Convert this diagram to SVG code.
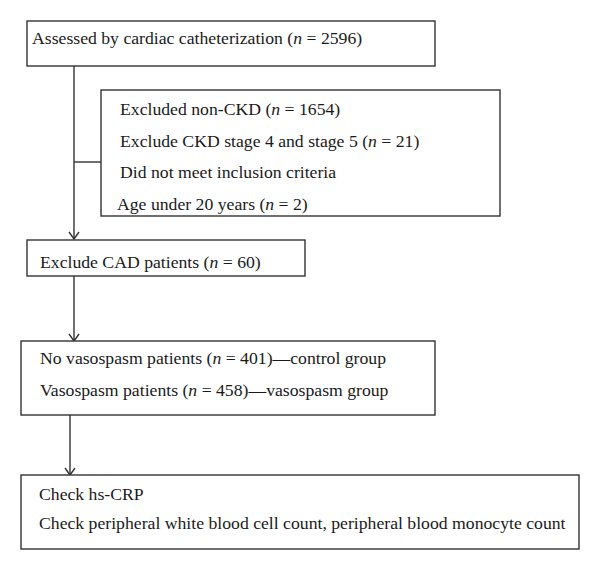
<svg xmlns="http://www.w3.org/2000/svg" width="600" height="570" viewBox="0 0 600 570">
<style>
.box{fill:#fff;stroke:#333;stroke-width:1.4}
.t{font-family:"Liberation Serif","Times New Roman",serif;font-size:17.7px;fill:#1a1a1a}
.ln{stroke:#333;stroke-width:1.4;fill:none}
</style>
<defs>
<marker id="ah" markerWidth="12" markerHeight="12" refX="10" refY="6" orient="auto" markerUnits="userSpaceOnUse" viewBox="0 0 12 12">
<path d="M3,1 L10,6 L3,11" fill="none" stroke="#333" stroke-width="1.4"/>
</marker>
</defs>
<rect width="600" height="570" fill="#fff"/>
<g id="connectors">
<path class="ln" d="M74,66 V239" marker-end="url(#ah)"/>
<path class="ln" d="M74,162 H101"/>
<path class="ln" d="M74,276 V341" marker-end="url(#ah)"/>
<path class="ln" d="M70,415 V475" marker-end="url(#ah)"/>
</g>
<g id="assessed">
<rect class="box" x="27" y="21" width="408" height="45"/>
<text class="t" x="32" y="44">Assessed by cardiac catheterization (<tspan font-style="italic">n</tspan> = 2596)</text>
</g>
<g id="excluded">
<rect class="box" x="101" y="90" width="399" height="126"/>
<text class="t" x="120" y="115">Excluded non-CKD (<tspan font-style="italic">n</tspan> = 1654)</text>
<text class="t" x="120" y="147">Exclude CKD stage 4 and stage 5 (<tspan font-style="italic">n</tspan> = 21)</text>
<text class="t" x="120" y="178">Did not meet inclusion criteria</text>
<text class="t" x="117" y="210">Age under 20 years (<tspan font-style="italic">n</tspan> = 2)</text>
</g>
<g id="cad">
<rect class="box" x="27" y="240" width="278" height="36"/>
<text class="t" x="40" y="268">Exclude CAD patients (<tspan font-style="italic">n</tspan> = 60)</text>
</g>
<g id="groups">
<rect class="box" x="21" y="341" width="414" height="74"/>
<text class="t" x="40" y="364">No vasospasm patients (<tspan font-style="italic">n</tspan> = 401)—control group</text>
<text class="t" x="40" y="396">Vasospasm patients (<tspan font-style="italic">n</tspan> = 458)—vasospasm group</text>
</g>
<g id="check">
<rect class="box" x="21" y="475" width="558" height="74"/>
<text class="t" x="39" y="500">Check hs-CRP</text>
<text class="t" x="39" y="529">Check peripheral white blood cell count, peripheral blood monocyte count</text>
</g>
</svg>
